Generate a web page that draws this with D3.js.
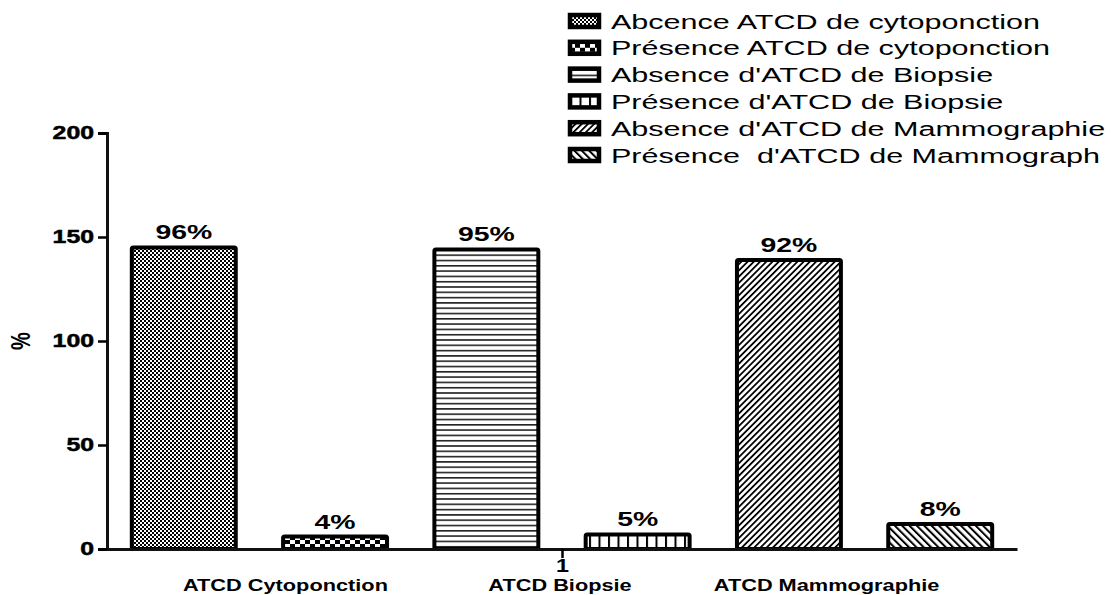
<!DOCTYPE html>
<html><head><meta charset="utf-8">
<script src="https://cdn.jsdelivr.net/npm/d3@7"></script>
<style>
body{margin:0;background:#fff;}
svg{display:block;font-family:"Liberation Sans",Arial,sans-serif;}
.lgt{white-space:pre;}
</style></head>
<body><svg id="c" width="1114" height="595"></svg>
<script>
// ---- data ----
const series = ["Abcence ATCD de cytoponction","Présence ATCD de cytoponction","Absence d'ATCD de Biopsie","Présence d'ATCD de Biopsie","Absence d'ATCD de Mammographie","Présence  d'ATCD de Mammograph"];
const values = [145, 6, 144, 7, 139, 12];
const valueLabels = ["96%","4%","95%","5%","92%","8%"];
const categories = ["ATCD Cytoponction","ATCD Biopsie","ATCD Mammographie"];
const yTicks = [0, 50, 100, 150, 200];
const xTickLabels = ["1"];
const yLabel = "%";

const svg = d3.select("#c");
const defs = svg.append("defs");
function pat(id, w, h, draw, rot){
  const p = defs.append("pattern").attr("id", id).attr("patternUnits","userSpaceOnUse")
    .attr("width", w).attr("height", h);
  if (rot) p.attr("patternTransform", "rotate(" + rot + ")");
  p.append("rect").attr("width", w).attr("height", h).attr("fill", "#fff");
  draw(p);
}
pat("p0", 4, 4, p => { p.append("rect").attr("width",2).attr("height",2).attr("fill","#000");
  p.append("rect").attr("x",2).attr("y",2).attr("width",2).attr("height",2).attr("fill","#000"); });
pat("p1", 10, 8, p => { p.append("rect").attr("width",5).attr("height",4).attr("fill","#000");
  p.append("rect").attr("x",5).attr("y",4).attr("width",5).attr("height",4).attr("fill","#000"); });
pat("p2", 10, 5.3, p => { p.append("rect").attr("width",10).attr("height",1.6).attr("fill","#222"); });
pat("p3", 9.5, 10, p => { p.append("rect").attr("width",2).attr("height",10).attr("fill","#000"); });
pat("p4", 4.4, 10, p => { p.append("rect").attr("width",1.8).attr("height",10).attr("fill","#000"); }, 45);
pat("p5", 5.2, 10, p => { p.append("rect").attr("width",2).attr("height",10).attr("fill","#000"); }, -45);

const x = d3.scaleBand().domain(series).range([107, 1017]).paddingInner(0.313).paddingOuter(0.164);
const y = d3.scaleLinear().domain([0, 200]).range([549, 133]);
const xPt = d3.scalePoint().domain(xTickLabels).range([107, 1017]).padding(0.5);

// bars
svg.append("g").selectAll("rect").data(series).join("rect")
  .attr("x", d => x(d)).attr("width", x.bandwidth())
  .attr("y", (d,i) => y(values[i])).attr("height", (d,i) => y(0) - y(values[i]))
  .attr("fill", (d,i) => "url(#p" + i + ")")
  .attr("stroke", "#000").attr("stroke-width", 4).attr("rx", 1.5);

// value labels
svg.append("g").selectAll("text").data(series).join("text")
  .attr("transform", (d,i) => "translate(" + (x(d) + x.bandwidth()/2) + "," + (y(values[i]) - 8) + ") scale(1.42,1)")
  .attr("text-anchor","middle").attr("font-weight","bold").attr("font-size", 20)
  .text((d,i) => valueLabels[i]);

// y axis
const ya = svg.append("g").attr("transform","translate(107,0)")
  .call(d3.axisLeft(y).tickValues(yTicks).tickSize(9).tickPadding(4));
ya.select(".domain").attr("stroke","#111").attr("stroke-width",3);
ya.selectAll(".tick line").attr("stroke","#000").attr("stroke-width",2.5);
ya.selectAll(".tick text").attr("font-size",18).attr("font-weight","900").attr("fill","#000")
  .attr("stroke","#000").attr("stroke-width",0.5)
  .attr("font-family","'Liberation Sans',Arial,sans-serif")
  .attr("transform","translate(-13,0) scale(1.38,1) translate(13,0)");

// x axis
const xa = svg.append("g").attr("transform","translate(0,549)")
  .call(d3.axisBottom(xPt).tickSize(9).tickPadding(3).tickSizeOuter(0));
xa.select(".domain").attr("stroke","#111").attr("stroke-width",3);
xa.selectAll(".tick line").attr("stroke","#000").attr("stroke-width",2.5);
xa.selectAll(".tick text").attr("font-size",18).attr("font-weight","bold").attr("fill","#000")
  .attr("font-family","'Liberation Sans',Arial,sans-serif")
  .attr("transform","scale(1.3,1)").attr("dy","0.62em");

// category labels
const catOffset = [26, -2, -38];
svg.append("g").selectAll("text").data(categories).join("text")
  .attr("transform", (d,i) => {
    const cx = (x(series[2*i]) + x(series[2*i+1]) + x.bandwidth()) / 2 + catOffset[i];
    return "translate(" + cx + ",591) scale(1.28,1)"; })
  .attr("text-anchor","middle").attr("font-weight","bold").attr("font-size",17).text(d => d);

// y label
svg.append("text").attr("transform","translate(30,341) rotate(-90) scale(1,1.4)")
  .attr("text-anchor","middle").attr("font-weight","bold").attr("font-size",20).text(yLabel);

// legend
const lg = svg.append("g").selectAll("g").data(series).join("g")
  .attr("transform", (d,i) => "translate(570," + (21 + i*26.8) + ")");
lg.append("rect").attr("x",0).attr("y",-6).attr("width",29).attr("height",12)
  .attr("fill",(d,i) => "url(#p" + i + ")").attr("stroke","#000").attr("stroke-width",4.5);
lg.append("text").attr("class","lgt").attr("transform","translate(41,7.5) scale(1.455,1)")
  .attr("font-size",21).text(d => d);
</script></body></html>
